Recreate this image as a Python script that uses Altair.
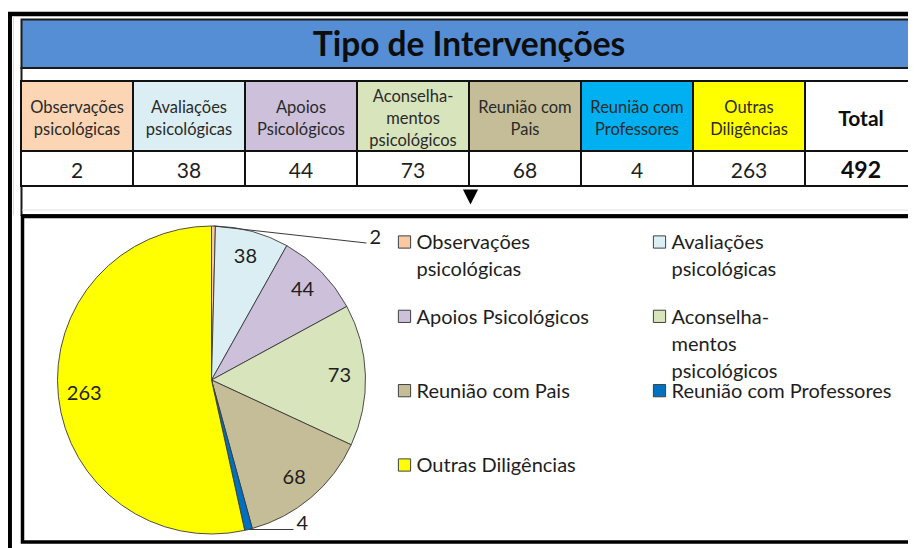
import altair as alt
import pandas as pd

# ---------------- data ----------------
categories = ["Observações psicológicas", "Avaliações psicológicas", "Apoios Psicológicos",
              "Aconselhamentos psicológicos", "Reunião com Pais", "Reunião com Professores",
              "Outras Diligências"]
values = [2, 38, 44, 73, 68, 4, 263]
header_labels = ["Observações\npsicológicas", "Avaliações\npsicológicas", "Apoios\nPsicológicos",
                 "Aconselha-\nmentos\npsicológicos", "Reunião com\nPais", "Reunião com\nProfessores",
                 "Outras\nDiligências"]
legend_labels = ["Observações\npsicológicas", "Avaliações\npsicológicas", "Apoios Psicológicos",
                 "Aconselha-\nmentos\npsicológicos", "Reunião com Pais", "Reunião com Professores",
                 "Outras Diligências"]
header_colors = ["#FCD5B4", "#DAEEF3", "#CCC0DA", "#D8E4BC", "#C4BD97", "#00B0F0", "#FFFF00"]
slice_colors = ["#FAC9A2", "#DAEEF3", "#CCC0DA", "#D8E4BC", "#C4BD97", "#0070C0", "#FFFF00"]
title_text = "Tipo de Intervenções"
total_label = "Total"

# ---------------- tables built from the lists ----------------
total = sum(values)
cats_all = categories + [total_label]
table_df = pd.DataFrame({
    "cat": cats_all,
    "head": header_labels + [total_label],
    "val": [str(v) for v in values] + [str(total)],
    "fill": header_colors + ["#FFFFFF"],
})
pie_df = pd.DataFrame({
    "cat": categories,
    "value": values,
    "idx": list(range(len(categories))),
    "color": slice_colors,
    "leg": legend_labels,
})

W, H = 900, 540
FONT = "Lato"
TXT = "#1e1e1e"
CX, CY, R = 203.5, 372, 154
one = alt.Data(values=[{}])

col_scale = alt.Scale(domain=cats_all, range=[13, 909], paddingInner=0, paddingOuter=0)
xcol = alt.X("cat:N", scale=col_scale, axis=None)

layers = []

# outer sheet border
layers.append(alt.Chart(one).mark_rect(fill="white", fillOpacity=0, stroke="black", strokeWidth=4.5).encode(
    x=alt.value(1.7), x2=alt.value(W + 30), y=alt.value(6), y2=alt.value(H + 30)))
# faint excel gridline
layers.append(alt.Chart(one).mark_rule(color="#DADADA", strokeWidth=1).encode(
    x=alt.value(5.5), y=alt.value(8), y2=alt.value(207)))
# title bar
layers.append(alt.Chart(one).mark_rect(fill="#558ED5", stroke="#1a1a1a", strokeWidth=2).encode(
    x=alt.value(13.5), x2=alt.value(W + 30), y=alt.value(11.5), y2=alt.value(60)))
layers.append(alt.Chart(one).mark_text(font=FONT, fontSize=33.5, fontWeight="bold", color="#0d0d0d",
                                      align="center", baseline="alphabetic").encode(
    x=alt.value(461), y=alt.value(48), text=alt.value(title_text)))
# frame around blank rows
layers.append(alt.Chart(one).mark_rect(fill="white", fillOpacity=0, stroke="#1a1a1a", strokeWidth=2).encode(
    x=alt.value(13.5), x2=alt.value(W + 30), y=alt.value(60), y2=alt.value(207)))
layers.append(alt.Chart(one).mark_rule(color="#E2E2E2", strokeWidth=1).encode(
    x=alt.value(14), x2=alt.value(W), y=alt.value(202)))

# header cells
layers.append(alt.Chart(table_df).mark_rect(stroke="#111111", strokeWidth=2).encode(
    x=xcol, y=alt.value(73), y2=alt.value(143), fill=alt.Fill("fill:N", scale=None)))
layers.append(alt.Chart(table_df).mark_rect(fill="white", stroke="#111111", strokeWidth=2).encode(
    x=xcol, y=alt.value(143), y2=alt.value(178)))
layers.append(alt.Chart(table_df).transform_filter(f"datum.cat != '{total_label}'").transform_calculate(
    ty="111 - (length(split(datum.head, '\\n')) - 1) * 11").mark_text(
    font=FONT, fontSize=16.5, color="#2a2a2a", lineBreak="\n", lineHeight=22, baseline="middle").encode(
    x=xcol, y=alt.Y("ty:Q", scale=None, axis=None), text="head:N"))
layers.append(alt.Chart(table_df).transform_filter(f"datum.cat == '{total_label}'").mark_text(
    font=FONT, fontSize=21, fontWeight="bold", color="#0d0d0d", baseline="alphabetic").encode(
    x=xcol, y=alt.value(118), text="head:N"))
layers.append(alt.Chart(table_df).transform_filter(f"datum.cat != '{total_label}'").mark_text(
    font=FONT, fontSize=21, color=TXT, baseline="alphabetic").encode(
    x=xcol, y=alt.value(170), text="val:N"))
layers.append(alt.Chart(table_df).transform_filter(f"datum.cat == '{total_label}'").mark_text(
    font=FONT, fontSize=23, fontWeight="bold", color="#0d0d0d", baseline="alphabetic").encode(
    x=xcol, y=alt.value(170), text="val:N"))

# down triangle
layers.append(alt.Chart(one).mark_point(shape="M-1,-1L1,-1L0,1Z", size=230, filled=True,
                                       color="black", opacity=1).encode(
    x=alt.value(462.5), y=alt.value(189)))

# chart box
layers.append(alt.Chart(one).mark_rect(fill="white", stroke="black", strokeWidth=3.5).encode(
    x=alt.value(14.5), x2=alt.value(W + 30), y=alt.value(208.5), y2=alt.value(534)))

# pie
theta = alt.Theta("value:Q", stack=True)
order = alt.Order("idx:Q", sort="ascending")
layers.append(alt.Chart(pie_df).mark_arc(radius=R, stroke="#3a3a3a", strokeWidth=0.9).encode(
    theta=theta, order=order, fill=alt.Fill("color:N", scale=None),
    x=alt.value(CX), y=alt.value(CY)))
layers.append(alt.Chart(pie_df).transform_calculate(
    lbl="datum.value >= 10 ? '' + datum.value : ''").mark_text(
    radius=128, font=FONT, fontSize=20, color=TXT, baseline="middle", align="center").encode(
    theta=theta, order=order, text="lbl:N", x=alt.value(CX), y=alt.value(CY)))

# leader lines for the thin slices
leader = {"Observações psicológicas": (153, 17), "Reunião com Professores": (45, 0)}
ex_dx = " : ".join(f"datum.cat === '{k}' ? {v[0]}" for k, v in leader.items()) + " : 0"
ex_dy = " : ".join(f"datum.cat === '{k}' ? {v[1]}" for k, v in leader.items()) + " : 0"
lead_base = alt.Chart(pie_df).transform_window(
    cum="sum(value)", sort=[alt.SortField("idx", order="ascending")]
).transform_joinaggregate(tot="sum(value)").transform_calculate(
    mid="(datum.cum - datum.value / 2) / datum.tot * 2 * PI"
).transform_calculate(
    ex=f"{CX} + {R} * sin(datum.mid)", ey=f"{CY} - {R} * cos(datum.mid)"
).transform_filter("datum.value < 10").transform_calculate(
    lx=f"datum.ex + ({ex_dx})", ly=f"datum.ey + ({ex_dy})"
)
layers.append(lead_base.mark_rule(color="#3a3a3a", strokeWidth=1).encode(
    x=alt.X("ex:Q", scale=None, axis=None), y=alt.Y("ey:Q", scale=None, axis=None),
    x2="lx:Q", y2="ly:Q"))
layers.append(lead_base.mark_text(font=FONT, fontSize=20, color=TXT, align="left",
                                  baseline="alphabetic", dx=3, dy=1).encode(
    x=alt.X("lx:Q", scale=None, axis=None), y=alt.Y("ly:Q", scale=None, axis=None),
    text="value:Q"))

# legend (two columns)
leg_base = alt.Chart(pie_df).transform_calculate(col="datum.idx % 2", row="floor(datum.idx / 2)")
lx = alt.X("col:Q", scale=alt.Scale(domain=[0, 1], range=[396.5, 651.5], nice=False, zero=False), axis=None)
ly = alt.Y("row:Q", scale=alt.Scale(domain=[0, 3], range=[234, 457], nice=False, zero=False), axis=None)
layers.append(leg_base.mark_square(size=150, filled=True, stroke="#404040", strokeWidth=1, opacity=1).encode(
    x=lx, y=ly, fill=alt.Fill("color:N", scale=None)))
layers.append(leg_base.mark_text(font=FONT, fontSize=20, color=TXT, align="left", baseline="top",
                                 lineBreak="\n", lineHeight=27, dx=12, dy=-8.6).encode(
    x=lx, y=ly, text="leg:N"))

chart = alt.layer(*layers).resolve_scale(
    x="independent", y="independent", theta="independent"
).properties(
    width=W, height=H, padding=0, autosize=alt.AutoSizeParams(type="none")
).configure_view(strokeWidth=0)

chart.save("out.html", embed_options={"renderer": "svg", "actions": False})
